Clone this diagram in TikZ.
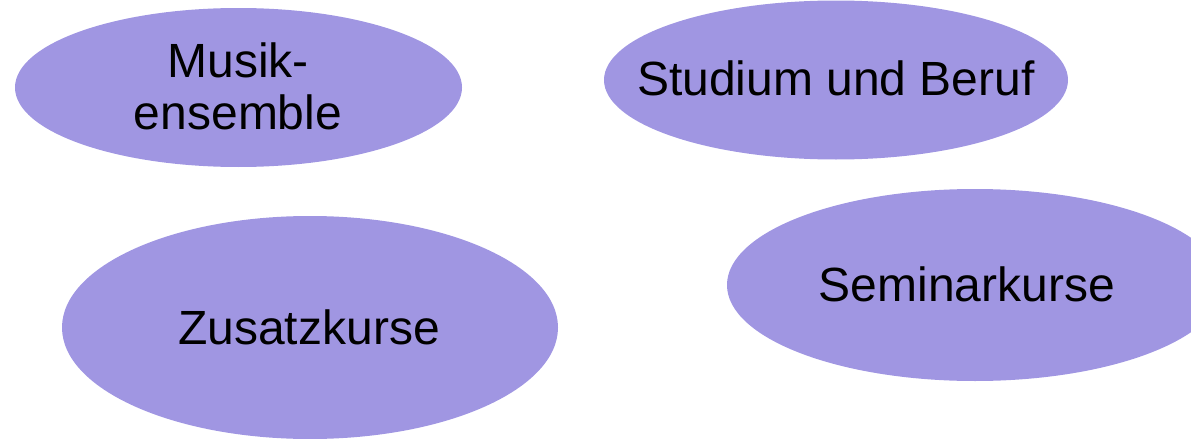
\documentclass[tikz,border=0pt]{standalone}
\usepackage{fontspec}
\setmainfont{Liberation Sans}
\usetikzlibrary{shapes.geometric}
\definecolor{bubble}{RGB}{160,150,226}
\tikzset{
  bubblenode/.style={ellipse, fill=bubble, draw=none, inner sep=0pt},
  txt/.style={font=\fontsize{24}{26}\selectfont, align=center, inner sep=0pt, text=black}
}
\begin{document}
\begin{tikzpicture}[x=0.5pt,y=-0.5pt]
\useasboundingbox (0,0) rectangle (1191,439);
\clip (0,0) rectangle (1191,439);
\node[bubblenode, minimum width=223.5pt, minimum height=79.5pt] (e1) at (238.5,87.5) {};
\node[bubblenode, minimum width=232pt, minimum height=79.5pt] (e2) at (836,80) {};
\node[bubblenode, minimum width=248pt, minimum height=111.5pt] (e3) at (310,327.5) {};
\node[bubblenode, minimum width=248pt, minimum height=96pt] (e4) at (975,285) {};
\node[txt] (t1) at (238,86) {Musik-\\ensemble};
\node[txt] (t2) at (836,78.5) {Studium und Beruf};
\node[txt] (t3) at (309,327) {Zusatzkurse};
\node[txt] (t4) at (967,284) {Seminarkurse};
\end{tikzpicture}
\end{document}
